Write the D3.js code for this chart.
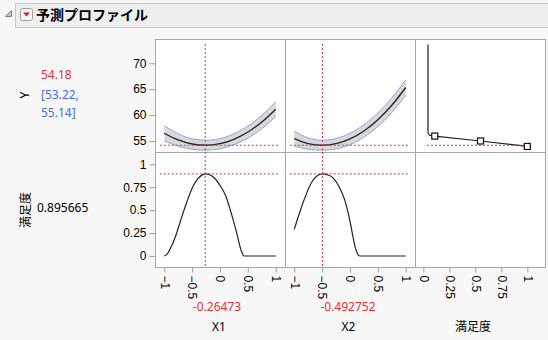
<!DOCTYPE html>
<html>
<head>
<meta charset="utf-8">
<script src="https://cdn.jsdelivr.net/npm/d3@7"></script>
<style>
  body { margin: 0; background: #f7f7f7; }
  svg { display: block; font-family: "Noto Sans", sans-serif; }
  .tick text { font-size: 12px; fill: #000; }
  .tick line { stroke: #a0a0a0; }
  .jp { font-family: "Noto Sans CJK JP", sans-serif; }
</style>
</head>
<body>
<div id="chart"></div>
<script>
// tick values
var xTicks = [-1, -0.5, 0, 0.5, 1];
var xMinor = [-0.75, -0.25, 0.25, 0.75];
var yTicks = [55, 60, 65, 70];
var yMinor = [57.5, 62.5, 67.5, 72.5];
var dTicks = [0, 0.25, 0.5, 0.75, 1];

// current settings
var x1Now = -0.26473, x2Now = -0.492752;
var yNow = 54.18, yLo = 53.22, yHi = 55.14;
var dNow = 0.895665;

// Y profile traces
var xGrid = [-1, -0.75, -0.5, -0.25, 0, 0.25, 0.5, 0.75, 1];
var yByX1 = [56.5, 55.2, 54.42, 54.18, 54.48, 55.33, 56.73, 58.66, 61.14];
var ciByX1 = [1.45, 1.2, 1.0, 0.96, 0.98, 1.05, 1.15, 1.3, 1.42];
var yByX2 = [55.47, 54.51, 54.18, 54.48, 55.4, 56.94, 59.11, 61.9, 65.32];
var ciByX2 = [1.45, 1.1, 0.96, 1.0, 1.1, 1.2, 1.3, 1.4, 1.48];

// desirability traces
var dX1 = [-1, -0.95, -0.875, -0.8, -0.7, -0.6, -0.5, -0.4, -0.3, -0.265, -0.2, -0.1, 0, 0.1, 0.2, 0.3, 0.38, 0.43, 0.5, 1];
var dByX1 = [0, 0.02, 0.1, 0.21, 0.4, 0.58, 0.74, 0.84, 0.89, 0.896, 0.89, 0.85, 0.77, 0.66, 0.47, 0.25, 0.06, 0, 0, 0];
var dX2 = [-1, -0.9, -0.8, -0.7, -0.6, -0.493, -0.4, -0.3, -0.2, -0.1, 0, 0.05, 0.1, 0.15, 0.18, 0.5, 1];
var dByX2 = [0.29, 0.48, 0.65, 0.79, 0.87, 0.896, 0.885, 0.85, 0.76, 0.62, 0.38, 0.22, 0.08, 0.01, 0, 0, 0];

// desirability function of Y
var dfD = [0.045, 0.045, 0.06, 0.11, 0.55, 1.0];
var dfY = [73.6, 56.6, 56.1, 55.95, 55.0, 53.95];
var markD = [0.11, 0.55, 1.0];
var markY = [55.95, 55.0, 53.95];

var width = 548, height = 340;
var colX = [155, 285, 415], colW = 130;
var rowY = [39, 152], rowH = [113, 115];

var red = "#e8303c", blue = "#4a6cf0";

var svg = d3.select("#chart").append("svg")
  .attr("width", width).attr("height", height);

// header
svg.append("rect").attr("x", 15.5).attr("y", 3.5).attr("width", 540).attr("height", 24)
  .attr("fill", "#eeeeee").attr("stroke", "#c8c8c8");
svg.append("path").attr("d", "M5.5,16.5 L11.5,10.5 L11.5,16.5 Z")
  .attr("fill", "#c8c8c8").attr("stroke", "#808080");
svg.append("rect").attr("x", 20.5).attr("y", 8.5).attr("width", 12).attr("height", 12).attr("rx", 2)
  .attr("fill", "#f6f6f6").attr("stroke", "#a0a0a0");
svg.append("path").attr("d", "M23,12.5 L30,12.5 L26.5,16.5 Z").attr("fill", "#d42020");
svg.append("text").attr("class", "jp").attr("x", 36).attr("y", 19.5)
  .style("font-size", "14px").style("font-weight", "bold").text("予測プロファイル");

// scales
var xF = d3.scaleLinear().domain([-1.166, 1.166]).range([0, colW]);
var xD = d3.scaleLinear().domain([-0.08, 1.17]).range([0, colW]);
var yY = d3.scaleLinear().domain([52.88, 74.67]).range([rowH[0], 0]);
var yD = d3.scaleLinear().domain([-0.12, 1.134]).range([rowH[1], 0]);

function panel(c, r) {
  var g = svg.append("g").attr("transform", `translate(${colX[c]}, ${rowY[r]})`);
  g.append("rect").attr("x", 0.5).attr("y", 0.5).attr("width", colW).attr("height", rowH[r])
    .attr("fill", "#fff").attr("stroke", "#a8a8a8");
  return g;
}

function dotted(sel) {
  return sel.attr("stroke", red).attr("stroke-width", 1).attr("stroke-dasharray", "2,2").attr("fill", "none");
}

var p = [[panel(0, 0), panel(1, 0), panel(2, 0)], [panel(0, 1), panel(1, 1), panel(2, 1)]];

// left axes
var axY = svg.append("g").attr("transform", `translate(${colX[0] + 0.5}, ${rowY[0]})`);
axY.call(d3.axisLeft(yY).tickValues(yMinor).tickSize(4).tickFormat(""));
axY.call(d3.axisLeft(yY).tickValues(yTicks).tickSize(6).tickPadding(3));
var axD = svg.append("g").attr("transform", `translate(${colX[0] + 0.5}, ${rowY[1]})`);
axD.call(d3.axisLeft(yD).tickValues(dTicks).tickSize(6).tickPadding(3).tickFormat(d3.format("~g")));
svg.selectAll(".domain").remove();

// bottom axes
var bottomY = rowY[1] + rowH[1] + 0.5;
function rotateLabels(g) {
  g.selectAll(".tick text")
    .attr("transform", "rotate(90)")
    .attr("x", 8).attr("y", 0).attr("dy", "0.35em")
    .style("text-anchor", "start");
}
[0, 1].forEach(function(c) {
  var g = svg.append("g").attr("transform", `translate(${colX[c]}, ${bottomY})`);
  g.call(d3.axisBottom(xF).tickValues(xMinor).tickSize(3).tickFormat(""));
  g.call(d3.axisBottom(xF).tickValues(xTicks).tickSize(5).tickFormat(d3.format("~g")));
  rotateLabels(g);
  g.select(".domain").remove();
});
var gd = svg.append("g").attr("transform", `translate(${colX[2]}, ${bottomY})`);
gd.call(d3.axisBottom(xD).tickValues(dTicks).tickSize(5).tickFormat(d3.format("~g")));
rotateLabels(gd);
gd.select(".domain").remove();

// Y profiles with confidence bands
function yProfile(g, ys, cis) {
  var pts = xGrid.map(function(x, i) { return { x: x, y: ys[i], lo: ys[i] - cis[i], hi: ys[i] + cis[i] }; });
  var curve = d3.curveMonotoneX;
  g.append("path").datum(pts).attr("fill", "#d8d8d8")
    .attr("d", d3.area().x(d => xF(d.x)).y0(d => yY(d.lo)).y1(d => yY(d.hi)).curve(curve));
  ["lo", "hi"].forEach(function(k) {
    g.append("path").datum(pts).attr("fill", "none").attr("stroke", "#8aa4f2").attr("stroke-width", 1)
      .attr("d", d3.line().x(d => xF(d.x)).y(d => yY(d[k])).curve(curve));
  });
  g.append("path").datum(pts).attr("fill", "none").attr("stroke", "#222").attr("stroke-width", 1.3)
    .attr("d", d3.line().x(d => xF(d.x)).y(d => yY(d.y)).curve(curve));
}
yProfile(p[0][0], yByX1, ciByX1);
yProfile(p[0][1], yByX2, ciByX2);

// desirability profiles
function dProfile(g, xs, ds) {
  var pts = xs.map(function(x, i) { return [x, ds[i]]; });
  g.append("path").datum(pts).attr("fill", "none").attr("stroke", "#222").attr("stroke-width", 1.2)
    .attr("d", d3.line().x(d => xF(d[0])).y(d => yD(d[1])).curve(d3.curveMonotoneX));
}
dProfile(p[1][0], dX1, dByX1);
dProfile(p[1][1], dX2, dByX2);

// desirability function
var dfPts = dfD.map(function(d, i) { return [d, dfY[i]]; });
p[0][2].append("path").datum(dfPts).attr("fill", "none").attr("stroke", "#222").attr("stroke-width", 1.2)
  .attr("d", d3.line().x(d => xD(d[0])).y(d => yY(d[1])));

// reference lines
[0, 1].forEach(function(c) {
  p[0][c].append("line").call(dotted)
    .attr("x1", xF(-1.08)).attr("x2", xF(1.04)).attr("y1", yY(yNow)).attr("y2", yY(yNow));
  p[1][c].append("line").call(dotted)
    .attr("x1", xF(-1.08)).attr("x2", xF(1.04)).attr("y1", yD(dNow)).attr("y2", yD(dNow));
  var xv = colX[c] + xF(c === 0 ? x1Now : x2Now);
  svg.append("line").call(dotted)
    .attr("x1", xv).attr("x2", xv).attr("y1", rowY[0] + 5).attr("y2", rowY[1] + rowH[1] - 1);
});
p[0][2].append("line").call(dotted)
  .attr("x1", xD(0.035)).attr("x2", xD(1.03)).attr("y1", yY(yNow)).attr("y2", yY(yNow));

p[0][2].selectAll("rect.mark").data(markD).enter().append("rect")
  .attr("class", "mark")
  .attr("x", (d, i) => xD(d) - 3).attr("y", (d, i) => yY(markY[i]) - 3)
  .attr("width", 6).attr("height", 6)
  .attr("fill", "#fff").attr("stroke", "#111").attr("stroke-width", 1.2);

// left labels
svg.append("text").attr("transform", "translate(29, 95) rotate(-90)")
  .style("text-anchor", "middle").style("font-size", "12px").text("Y");
svg.append("text").attr("x", 41).attr("y", 79).attr("fill", red).style("font-size", "12px").text(yNow.toFixed(2));
svg.append("text").attr("x", 41).attr("y", 99).attr("fill", blue).style("font-size", "12px").text("[" + yLo.toFixed(2) + ",");
svg.append("text").attr("x", 41).attr("y", 117).attr("fill", blue).style("font-size", "12px").text(yHi.toFixed(2) + "]");
svg.append("text").attr("class", "jp").attr("transform", "translate(30, 210) rotate(-90)")
  .style("text-anchor", "middle").style("font-size", "12px").text("満足度");
svg.append("text").attr("x", 37).attr("y", 212).style("font-size", "12px").text(dNow);

// bottom labels
var valCx = [217, 348];
var nameCx = [219, 348.5, 473];
var names = ["X1", "X2", "満足度"];
[x1Now, x2Now].forEach(function(v, i) {
  svg.append("text").attr("x", valCx[i]).attr("y", 311).attr("fill", red)
    .style("text-anchor", "middle").style("font-size", "12px").text(v);
});
names.forEach(function(n, i) {
  svg.append("text").attr("class", i === 2 ? "jp" : null).attr("x", nameCx[i]).attr("y", 331)
    .style("text-anchor", "middle").style("font-size", "12px").text(n);
});
</script>
</body>
</html>
